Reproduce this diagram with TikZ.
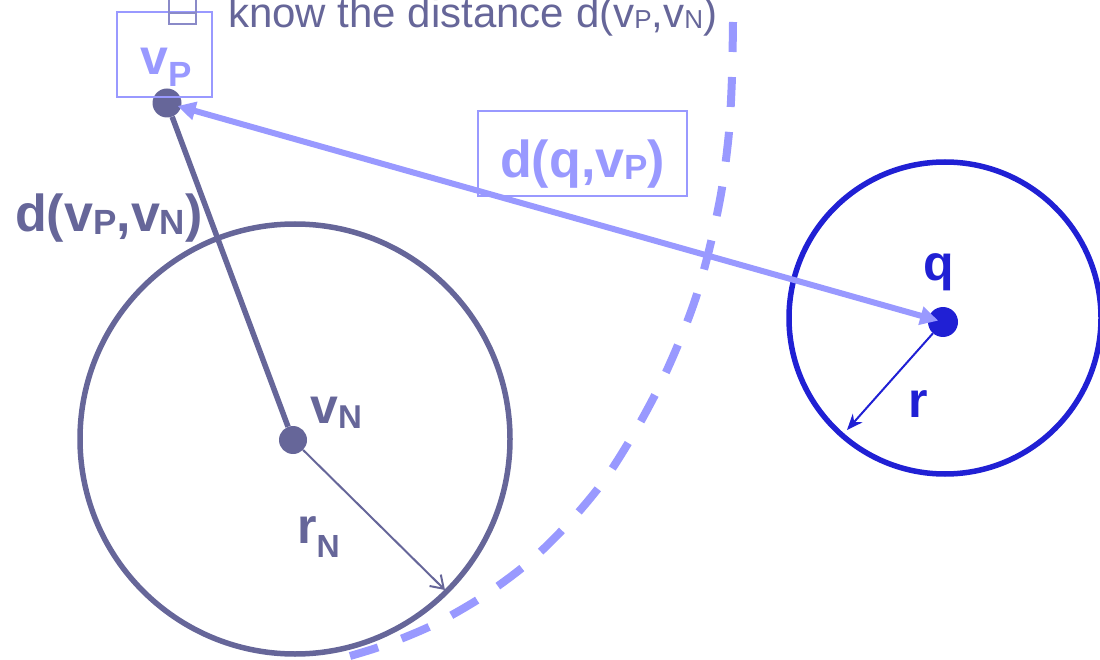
\documentclass[tikz,border=0pt]{standalone}
\usepackage{fontspec}
\setmainfont{Liberation Sans}
\usetikzlibrary{arrows.meta}
\definecolor{dk}{HTML}{666699}
\definecolor{lt}{HTML}{9999FF}
\definecolor{bl}{HTML}{2020D4}
\definecolor{cb}{HTML}{8A8AC8}
\newcommand{\lsub}[3]{\raisebox{-#1}{\fontsize{#2}{#2}\selectfont #3}}
\tikzset{
  ptdot/.style={circle, inner sep=0pt, minimum size=29pt},
  lbl/.style={inner sep=0pt, anchor=base west, font=\fontsize{50}{55}\selectfont\bfseries},
  biglbl/.style={inner sep=0pt, anchor=base west, font=\fontsize{52}{58}\selectfont\bfseries},
  frame/.style={draw=lt, line width=1.5pt, inner sep=0pt},
}
\begin{document}
\begin{tikzpicture}[x=1pt, y=-1pt]
\useasboundingbox (0,0) rectangle (1100,660);

% named points
\coordinate (qc) at (945,318);
\coordinate (rNend) at (445,590);
\coordinate (rend) at (847,430);

% dashed arc
\draw[lt, line width=8pt, dash pattern=on 30pt off 25pt, smooth]
  plot coordinates {(733,22) (732,77) (729,132) (722,188) (711,242) (697,294) (680,340) (659,387) (633,435) (603,482) (567,525) (528,563) (482,597) (433,625) (385,645) (350,656)};

% dots
\node[ptdot, fill=dk] (vP) at (167,103) {};
\node[ptdot, fill=dk, minimum size=28pt] (vN) at (293,440) {};
\node[ptdot, fill=bl, minimum size=30pt] (q) at (943,322) {};

% circles
\draw[dk, line width=5.5pt] (295,439) circle[radius=215pt];
\draw[bl, line width=5.5pt] (qc) circle[radius=156pt];

% connectors
\draw[dk, line width=5.5pt] (vP) -- (vN);
\draw[dk, line width=2pt, -{Straight Barb[length=12pt,width=16pt]}] (vN) -- (rNend);
\draw[bl, line width=2pt, -{Stealth[length=16pt,width=13pt]}] (q) -- (rend);
\draw[lt, line width=6pt, {Triangle[length=18pt,width=18pt]}-{Triangle[length=18pt,width=18pt]},
  shorten <=11pt, shorten >=5pt] (vP.center) -- (q.center);

% boxes
\node[frame, minimum width=95pt, minimum height=85pt] (boxP) at (164.5,54.5) {};
\node[frame, minimum width=209pt, minimum height=85pt] (boxD) at (582.5,153.5) {};

% checkbox fragment
\draw[cb, line width=1.5pt] (169,-2) -- (169,24) -- (196,24) -- (196,-2);
\draw[cb, line width=1.5pt] (169,13) -- (196,13);

% texts
\node[inner sep=0pt, anchor=base west, text=dk, font=\fontsize{42}{46}\selectfont] (top) at (228,28)
  {know the distance d(v\lsub{1pt}{26}{P},v\lsub{1pt}{26}{N})};
\node[lbl, text=lt] (lvP) at (140,75) {v\lsub{12pt}{35}{P}};
\node[biglbl, text=dk] (ldPN) at (15,232) {d(v\lsub{3pt}{35}{P},v\lsub{3pt}{35}{N})};
\node[biglbl, text=lt] (ldq) at (500,178) {d(q,v\lsub{2pt}{35}{P})};
\node[lbl, text=dk] (lvN) at (310,423) {v\lsub{5pt}{33}{N}};
\node[lbl, text=dk] (lrN) at (297,543) {r\lsub{14pt}{32}{N}};
\node[lbl, text=bl] (lq) at (923,280) {q};
\node[lbl, text=bl] (lr) at (908,417) {r};
\end{tikzpicture}
\end{document}
